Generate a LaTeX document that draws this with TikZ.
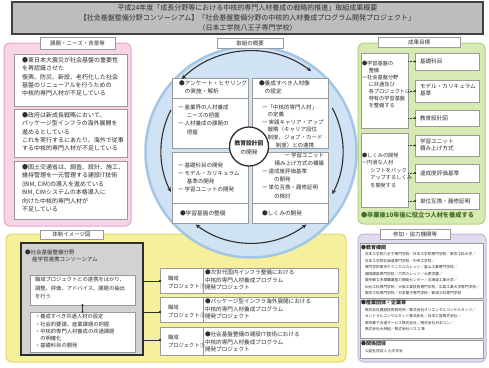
\documentclass[tikz,border=0pt]{standalone}
\usepackage{fontspec}
\setmainfont{Noto Sans CJK JP}
\usetikzlibrary{arrows.meta}
\XeTeXlinebreaklocale "ja"
\definecolor{ink}{HTML}{2E2E2E}
\definecolor{pinkP}{HTML}{F7D5E7}
\definecolor{pinkB}{HTML}{E7A4CA}
\definecolor{greenP}{HTML}{D8EAB4}
\definecolor{greenB}{HTML}{AFD27C}
\definecolor{greenT}{HTML}{3F6E1E}
\definecolor{yellowP}{HTML}{F5F09C}
\definecolor{yellowB}{HTML}{E2D96A}
\definecolor{purpleP}{HTML}{E2DBEF}
\definecolor{purpleB}{HTML}{C2B6DC}
\definecolor{blueP}{HTML}{CFE3F4}
\definecolor{blueB}{HTML}{A3C6E4}
\definecolor{titleG}{HTML}{BDBDBD}
\definecolor{consG}{HTML}{D2D2D2}
\definecolor{edgeG}{HTML}{9A9A9A}
\newcommand\fz[2]{\fontsize{#1}{#2}\selectfont}
\newcommand\rbox[6]{\node[#6,anchor=north west,minimum width={#4-#2},minimum height={#5-#3}] (#1) at (#2,#3) {};}
\tikzset{
 every node/.style={inner sep=0pt, outer sep=0pt},
 txt/.style={anchor=north west, align=left, text=ink},
 ctxt/.style={anchor=center, align=center, text=ink},
 wbox/.style={draw=edgeG, fill=white, line width=0.5pt},
 lbox/.style={draw=edgeG, fill=white, line width=0.5pt},
 arr/.style={draw=ink, line width=1.1pt},
 conn/.style={draw=ink, line width=0.6pt},
 gconn/.style={draw=ink, line width=0.6pt, dash pattern=on 1.3pt off 1pt},
}
\begin{document}
\begin{tikzpicture}[x=1pt,y=-1pt]
\useasboundingbox (0,0) rectangle (489,367);
\fill[white] (0,0) rectangle (489,367);

% ---------- title ----------
\rbox{title}{12}{2}{483}{34}{draw=black!75, fill=titleG, line width=1.5pt}
\node[ctxt, font=\fz{7}{10}] (ttl) at (title.center) {平成24年度「成長分野等における中核的専門人材養成の戦略的推進」取組成果概要\\【社会基盤整備分野コンソーシアム】「社会基盤整備分野の中核的人材養成プログラム開発プロジェクト」\\（日本工学院八王子専門学校）};

% ---------- pink panel ----------
\rbox{pinkpanel}{4}{43}{131}{226}{draw=pinkB, fill=pinkP, line width=1pt, rounded corners=6pt}
\rbox{pinklbl}{40}{37}{115}{49}{lbox}
\node[ctxt, font=\fz{5.5}{6}] (pinklbltx) at (pinklbl.center) {課題・ニーズ・背景等};
\rbox{pb1}{14}{54}{127}{106}{wbox}
\rbox{pb2}{14}{109}{127}{157}{wbox}
\rbox{pb3}{14}{161}{127}{219}{wbox}
\node[txt, font=\fz{6}{8.3}] (pb1t) at (22,57.5) {●東日本大震災が社会基盤の重要性\\を再認識させた\\復興、防災、新設、老朽化した社会\\基盤のリニューアルを行うための\\中核的専門人材が不足している};
\node[txt, font=\fz{6}{8.3}] (pb2t) at (22,112.5) {●政府は新成長戦略において、\\パッケージ型インフラの海外展開を\\進めるとしている\\これを実行するにあたり、海外で従事\\する中核的専門人材が不足している};
\node[txt, font=\fz{6}{8.4}] (pb3t) at (22,164.5) {●国土交通省は、調査、設計、施工、\\維持管理を一元管理する建設IT技術\\(BIM, CIM)の導入を進めている\\BIM, CIMシステムの本格導入に\\向けた中核的専門人材が\\不足している};

% ---------- yellow panel ----------
\rbox{ypanel}{6}{234}{346}{362}{draw=yellowB, fill=yellowP, line width=1pt, rounded corners=6pt}
\rbox{ylbl}{40}{230}{103}{239}{lbox}
\node[ctxt, font=\fz{5.5}{6}] (ylbltx) at (ylbl.center) {体制イメージ図};
\rbox{cons}{21}{243}{143}{355}{draw=ink, fill=consG, line width=1.5pt}
\node[txt, font=\fz{5.5}{7.8}] (const) at (25,249.5) {●社会基盤整備分野\\\hspace*{1.3em}産学官連携コンソーシアム};
\rbox{cw1}{30}{275}{135}{305}{wbox}
\rbox{cw2}{30}{312}{135}{352}{wbox}
\node[txt, font=\fz{5.3}{8.3}] (cw1t) at (35,277.5) {職域プロジェクトとの連携をはかり、\\調整、評価、アドバイス、課題の抽出\\を行う};
\node[txt, font=\fz{5.3}{7.1}] (cw2t) at (35,314.5) {・養成すべき共通人材の設定\\・社会的要請、産業課題の把握\\・中核的専門人材養成の共通課題\\\hspace*{1em}の明確化\\・基礎科目の開発};
\draw[conn] (cw1.south) -- (cw2.north);
\fill[ink] (cw1.south) circle (1.2pt);
\fill[ink] (cw2.north) circle (1.2pt);

\rbox{L1}{160}{268}{203}{293}{wbox}
\rbox{T1}{203}{268}{338}{293}{wbox}
\rbox{L2}{160}{297}{203}{322}{wbox}
\rbox{T2}{203}{297}{338}{322}{wbox}
\rbox{L3}{160}{327}{203}{355}{wbox}
\rbox{T3}{203}{327}{338}{355}{wbox}
\node[txt, font=\fz{5.3}{7.5}] (L1t) at (168,276.5) {職域\\プロジェクト①};
\node[txt, font=\fz{5.3}{7.5}] (L2t) at (168,305.5) {職域\\プロジェクト②};
\node[txt, font=\fz{5.3}{7.5}] (L3t) at (168,335.5) {職域\\プロジェクト③};
\node[txt, font=\fz{5.6}{7.8}] (T1t) at (205,269.5) {●次世代国内インフラ整備における\\中核的専門人材養成プログラム\\開発プロジェクト};
\node[txt, font=\fz{5.6}{7.6}] (T2t) at (205,299) {●パッケージ型インフラ海外展開における\\中核的専門人材養成プログラム\\開発プロジェクト};
\node[txt, font=\fz{5.6}{7.6}] (T3t) at (205,332) {●社会基盤整備の建設IT技術における\\中核的専門人材養成プログラム\\開発プロジェクト};
\foreach \r/\yy in {L1/281, L2/312, L3/340}{
  \coordinate (\r in) at (\r.west |- 0,\yy);
  \draw[conn] (cons.east |- \r in) -- (\r in);
  \fill[ink] (\r in) circle (1.3pt);
}

% ---------- centre circle ----------
\node[circle, draw=blueB, fill=blueP, line width=2.5pt, minimum size=211pt] (bigc) at (251,152) {};
\rbox{clbl}{217}{38}{283}{48}{lbox}
\node[ctxt, font=\fz{5.5}{6}] (clbltx) at (clbl.center) {取組の概要};

\rbox{TL}{172}{78}{248}{148}{wbox}
\rbox{TR}{252}{78}{328}{148}{wbox}
\rbox{BL}{172}{152}{248}{223}{wbox}
\rbox{BR}{252}{152}{328}{223}{wbox}
\draw[edgeG, line width=0.5pt] (TL.north west) ++(0,20) -- ++(76,0);
\draw[edgeG, line width=0.5pt] (TR.north west) ++(0,20) -- ++(76,0);
\draw[edgeG, line width=0.5pt] (BL.south west) ++(0,-20) -- ++(76,0);
\draw[edgeG, line width=0.5pt] (BR.south west) ++(0,-20) -- ++(76,0);

\node[txt, font=\fz{5.7}{8.5}] (TLh) at (179,80.5) {●アンケート・ヒヤリング\\\hspace*{1em}の実施・解析};
\node[txt, font=\fz{5.5}{8.3}] (TLi) at (178,104.5) {ー 産業界の人材養成\\\hspace*{1.6em}ニーズの把握\\ー 人材養成の課題の\\\hspace*{1.6em}把握};
\node[txt, font=\fz{5.7}{8.5}] (TRh) at (259,80.5) {●養成すべき人材像\\\hspace*{1em}の設定};
\node[txt, font=\fz{5.5}{7.6}] (TRi) at (262,104.5) {ー「中核的専門人材」\\\hspace*{1em}の定義\\ー 実践キャリア・アップ\\\hspace*{1em}戦略（キャリア段位\\\hspace*{1em}制度、ジョブ・カード\\\hspace*{2.5em}制度）との連携};
\node[txt, font=\fz{5.5}{8}] (BLi) at (178,162.5) {ー 基礎科目の開発\\ー モデル・カリキュラム\\\hspace*{1.6em}基準の開発\\ー 学習ユニットの開発};
\node[txt, font=\fz{5.7}{8}] (BLh) at (180,210.5) {●学習基盤の整備};
\node[anchor=north east, align=right, text=ink, font=\fz{5.5}{8}] (BRa) at (324,152.5) {ー 学習ユニット\\積み上げ方式の構築};
\node[txt, font=\fz{5.5}{8.3}] (BRi) at (262,168.5) {ー 達成度評価基準\\\hspace*{2.2em}の開発\\ー 単位互換・履修証明\\\hspace*{2.2em}の検討};
\node[txt, font=\fz{5.7}{8}] (BRh) at (262,210.5) {●しくみの開発};

\node[circle, draw=ink, fill=white, line width=1.3pt, minimum size=39pt] (cc) at (249,146.5) {};
\node[ctxt, font=\fz{5.8}{9.5}] (cct) at ([yshift=-1.5pt]cc.center) {\textbf{教育設計図}\\の開発};

\draw[arr, {Stealth[length=4.5pt,width=4pt]}-{Stealth[length=4.5pt,width=4pt]}] ([shift={(251,151)}]226:100) arc[start angle=226, end angle=307, radius=100];
\draw[arr, -{Stealth[length=4.5pt,width=4pt]}] ([shift={(251,151)}]207:90) arc[start angle=207, end angle=153, radius=90];
\draw[arr, -{Stealth[length=4.5pt,width=4pt]}] ([shift={(251,151)}]-28:92) arc[start angle=-28, end angle=28, radius=92];
\draw[arr, {Stealth[length=4.5pt,width=4pt]}-{Stealth[length=4.5pt,width=4pt]}] ([shift={(251,151)}]127:92) arc[start angle=127, end angle=53, radius=92];

% ---------- green panel ----------
\rbox{gpanel}{358}{43}{485}{224}{draw=greenB, fill=greenP, line width=1pt, rounded corners=6pt}
\rbox{glbl}{378}{37}{460}{47}{lbox}
\node[ctxt, font=\fz{5.5}{6}] (glbltx) at (glbl.center) {成果目標};
\rbox{G1}{361}{53}{408}{128}{wbox}
\rbox{G2}{361}{133}{408}{207}{wbox}
\node[txt, font=\fz{5.2}{7}] (G1t) at (362,61.5) {●学習基盤の\\\hspace*{1.3em}整備\\ー社会基盤分野\\\hspace*{1.3em}に共通及び\\\hspace*{1.3em}各プロジェクトに\\\hspace*{1.3em}特有の学習基盤\\\hspace*{1.3em}を整備する};
\node[txt, font=\fz{5.2}{7.5}] (G2t) at (362,153) {●しくみの開発\\ー円滑な人材\\\hspace*{1.6em}シフトをバック\\\hspace*{1.6em}アップするしくみ\\\hspace*{1.6em}を開発する};
\rbox{R1}{415}{53}{479}{70}{wbox}
\rbox{R2}{415}{80}{479}{102}{wbox}
\rbox{R3}{415}{110}{479}{126}{wbox}
\rbox{R4}{415}{135}{479}{156}{wbox}
\rbox{R5}{415}{164}{479}{182}{wbox}
\rbox{R6}{415}{193}{479}{209}{wbox}
\node[txt, font=\fz{5.6}{7.5}] (R1t) at (420,59) {基礎科目};
\node[txt, font=\fz{5.6}{7.5}] (R2t) at (420,83.5) {モデル・カリキュラム\\基準};
\node[txt, font=\fz{5.6}{7.5}] (R3t) at (420,115.5) {教育設計図};
\node[txt, font=\fz{5.6}{7.5}] (R4t) at (420,138.5) {学習ユニット\\積み上げ方式};
\node[txt, font=\fz{5.6}{7.5}] (R5t) at (420,170.5) {達成度評価基準};
\node[txt, font=\fz{5.6}{7.5}] (R6t) at (420,198.5) {単位互換・履修証明};
\foreach \g/\r in {G1/R1, G1/R2, G1/R3, G2/R4, G2/R5, G2/R6}{
  \draw[gconn] (\g.east |- \r.west) -- (\r.west);
  \fill[ink] (\r.west) circle (1.1pt);
}
\node[txt, font=\fz{6.2}{7}, text=greenT] (gfoot) at (361,212.2) {\textbf{●卒業後10年後に役立つ人材を養成する}};

% ---------- purple panel ----------
\rbox{ppanel}{358}{234}{486}{362}{draw=purpleB, fill=purpleP, line width=1pt, rounded corners=6pt}
\rbox{plbl}{380}{229}{450}{239}{lbox}
\node[ctxt, font=\fz{5.5}{6}] (plbltx) at (plbl.center) {参加・協力機関等};
\rbox{P1}{360}{243}{483}{298}{wbox}
\rbox{P2}{360}{300}{483}{338}{wbox}
\rbox{P3}{360}{340}{483}{358}{wbox}
\node[txt, font=\fz{5}{6}] (P1h) at (361,245.5) {\textbf{●教育機関}};
\node[txt, font=\fz{3.7}{6.5}] (P1t) at (365,252.5) {日本工学院八王子専門学校／日本工学院専門学校／東京工科大学／\\日本工学院北海道専門学校／中央工学校／\\専門学校東京テクニカルカレッジ／富山工業専門学校／\\福岡建設専門学校／穴吹カレッジ／大原学園／\\東京都立多摩職業能力開発センター／北海道工業大学／\\仙台工科専門学校／大阪工業技術専門学校／広島工業大学専門学校／\\東京工科専門学校／日本電子専門学校／新潟工科専門学校};
\node[txt, font=\fz{5}{6}] (P2h) at (361,300.5) {\textbf{●産業団体・企業等}};
\node[txt, font=\fz{3.7}{6.6}] (P2t) at (365,308) {株式会社建設技術研究所／株式会社オリエンタルコンサルタンツ／\\セントラルコンサルタント株式会社／日本工営株式会社／\\東京都下水道サービス株式会社／株式会社日水コン／\\株式会社大林組／株式会社パスコ 等};
\node[txt, font=\fz{5}{6}] (P3h) at (361,341.5) {\textbf{●関係団体}};
\node[txt, font=\fz{3.7}{6.5}] (P3t) at (365,349) {公益社団法人 土木学会};
\end{tikzpicture}
\end{document}
